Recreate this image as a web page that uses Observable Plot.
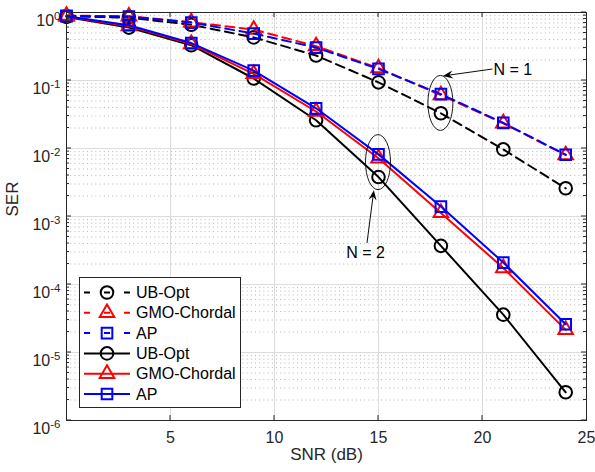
<!DOCTYPE html>
<html><head><meta charset="utf-8">
<script src="https://cdn.jsdelivr.net/npm/d3@7"></script>
<script src="https://cdn.jsdelivr.net/npm/@observablehq/plot@0.6"></script>
<style>
html,body{margin:0;padding:0;background:#fff;}
#chart{position:absolute;left:0;top:0;width:595px;height:472px;}
</style></head><body><div id="chart"></div>
<script>
// ---- data ----
const snr = [0, 3, 6, 9, 12, 15, 18, 21, 24];
// N = 1 (dashed)
const ubOptN1 = [0.88, 0.84, 0.66, 0.43, 0.233, 0.094, 0.033, 0.0097, 0.0026];
const gmoN1   = [0.90, 0.88, 0.72, 0.56, 0.32, 0.152, 0.061, 0.0235, 0.0080];
const apN1    = [0.89, 0.87, 0.71, 0.49, 0.305, 0.148, 0.063, 0.0238, 0.0081];
// N = 2 (solid)
const ubOptN2 = [0.86, 0.60, 0.33, 0.107, 0.026, 0.0038, 0.00037, 3.6e-5, 2.6e-6];
const gmoN2   = [0.87, 0.63, 0.345, 0.125, 0.035, 0.0072, 0.00113, 0.000175, 2.15e-5];
const apN2    = [0.88, 0.65, 0.355, 0.14, 0.039, 0.0082, 0.00140, 0.00021, 2.6e-5];

const seriesNames = ["UB-Opt", "GMO-Chordal", "AP", "UB-Opt", "GMO-Chordal", "AP"];
const seriesValues = [ubOptN1, gmoN1, apN1, ubOptN2, gmoN2, apN2];

const xTicks = [5, 10, 15, 20, 25];
const yTickExponents = [0, -1, -2, -3, -4, -5, -6];
const xLabel = "SNR (dB)";
const yLabel = "SER";

// annotations (data coordinates)
const annotLabels = ["N = 1", "N = 2"];
const annotTextX = [20.55, 14.4];
const annotTextY = [0.142, 2.9e-4];
const annotArrowFromX = [20.5, 14.47];
const annotArrowFromY = [0.145, 4.0e-4];
const annotArrowToX = [18.12, 14.8];
const annotArrowToY = [0.1147, 2.4e-3];
const ellipseX = [18.0, 15.0];
const ellipseY = [0.046, 0.0062];

// ---- styles ----
const seriesColors = ["#000000", "#ff0000", "#0000ff", "#000000", "#ff0000", "#0000ff"];
const seriesSymbols = ["circle", "triangle", "square", "circle", "triangle", "square"];
const seriesDashed = [true, true, true, false, false, false];
const symbolR = {circle: 6.3, triangle: 5.4, square: 6.0};
const FONT = "'Liberation Sans', Arial, Helvetica, sans-serif";
const AX = "#262626";
const TICK_FS = 16;

const decades = yTickExponents.map(e => Math.pow(10, e));
const minorVals = [];
for (let e = -6; e < 0; e++) for (let m = 2; m <= 9; m++) minorVals.push(m * Math.pow(10, e));

const marks = [
  Plot.ruleY(minorVals, {stroke: "#b4b4b4", strokeWidth: 1, strokeDasharray: "1,3.2"}),
  Plot.ruleY(decades, {stroke: "#dcdcdc", strokeWidth: 1}),
  Plot.ruleX(xTicks.slice(0, 4), {stroke: "#dcdcdc", strokeWidth: 1})
];
seriesValues.forEach((vals, si) => {
  const rows = snr.map((x, i) => ({x, y: vals[i]}));
  marks.push(Plot.line(rows, {x: "x", y: "y", stroke: seriesColors[si], strokeWidth: 2,
    strokeDasharray: seriesDashed[si] ? "9,5.5" : null}));
  marks.push(Plot.dot(rows, {x: "x", y: "y", symbol: () => seriesSymbols[si], r: symbolR[seriesSymbols[si]],
    stroke: seriesColors[si], strokeWidth: 2, fill: "none"}));
});
marks.push(
  Plot.frame({stroke: AX, strokeWidth: 1}),
  Plot.axisX({ticks: xTicks, tickSize: 0, tickPadding: 11, label: null, fontSize: TICK_FS, fill: AX}),
  Plot.axisY({ticks: decades, tickSize: 0, tickPadding: 6, label: null, fontSize: TICK_FS, fill: AX,
    tickFormat: d => "10"}),
  Plot.text([xLabel], {frameAnchor: "bottom", text: d => d, dy: 39, fontSize: 17, fill: AX}),
  Plot.text([yLabel], {frameAnchor: "left", text: d => d, dx: -54, rotate: -90, fontSize: 17, fill: AX})
);

const plot = Plot.plot({
  width: 595, height: 472,
  marginTop: 12, marginBottom: 52, marginLeft: 66, marginRight: 9,
  style: {fontFamily: FONT, background: "#fff", overflow: "visible"},
  x: {domain: [0, 25]},
  y: {type: "log", domain: [1e-6, 1]},
  marks
});
document.getElementById("chart").appendChild(plot);

const sx = plot.scale("x"), sy = plot.scale("y");
const svg = d3.select(plot);
const X0 = sx.apply(0), X1 = sx.apply(25), Y0 = sy.apply(1e-6), Y1 = sy.apply(1);

svg.selectAll('g[aria-label="x-axis tick label"]').attr("font-size", TICK_FS);
// superscript exponents on y tick labels
svg.selectAll('g[aria-label="y-axis tick label"]').attr("font-size", TICK_FS);
svg.selectAll('g[aria-label="y-axis tick label"] text').each(function(d, i) {
  const t = d3.select(this);
  t.text(null).attr("dy", "0.55em");
  t.append("tspan").text("10");
  t.append("tspan").attr("dy", "-0.55em").attr("font-size", "11.5px").text(String(yTickExponents[i]));
});

// inward ticks on all four sides
const tg = svg.append("g").attr("stroke", AX).attr("stroke-width", 1);
xTicks.slice(0, 4).forEach(v => {
  const x = sx.apply(v);
  tg.append("line").attr("x1", x).attr("x2", x).attr("y1", Y0).attr("y2", Y0 - 5);
  tg.append("line").attr("x1", x).attr("x2", x).attr("y1", Y1).attr("y2", Y1 + 5);
});
decades.forEach(v => {
  const y = sy.apply(v);
  tg.append("line").attr("x1", X0).attr("x2", X0 + 5).attr("y1", y).attr("y2", y);
  tg.append("line").attr("x1", X1).attr("x2", X1 - 5).attr("y1", y).attr("y2", y);
});
minorVals.forEach(v => {
  const y = sy.apply(v);
  tg.append("line").attr("x1", X0).attr("x2", X0 + 3).attr("y1", y).attr("y2", y);
  tg.append("line").attr("x1", X1).attr("x2", X1 - 3).attr("y1", y).attr("y2", y);
});

// annotations
const ag = svg.append("g");
ellipseX.forEach((ex, i) => {
  ag.append("ellipse").attr("cx", sx.apply(ex)).attr("cy", sy.apply(ellipseY[i]))
    .attr("rx", 12.5).attr("ry", 27.5).attr("fill", "none").attr("stroke", "#000").attr("stroke-width", 0.9);
});
annotLabels.forEach((lab, i) => {
  const x1 = sx.apply(annotArrowFromX[i]), y1 = sy.apply(annotArrowFromY[i]);
  const x2 = sx.apply(annotArrowToX[i]), y2 = sy.apply(annotArrowToY[i]);
  const ang = Math.atan2(y2 - y1, x2 - x1) * 180 / Math.PI;
  const len = Math.hypot(x2 - x1, y2 - y1);
  const g = ag.append("g").attr("transform", `translate(${x2},${y2}) rotate(${ang})`);
  g.append("line").attr("x1", -len).attr("x2", -6).attr("y1", 0).attr("y2", 0).attr("stroke", "#000").attr("stroke-width", 0.9);
  g.append("path").attr("d", "M0,0L-10,-4L-6.5,0L-10,4Z").attr("fill", "#000");
  ag.append("text").attr("x", sx.apply(annotTextX[i])).attr("y", sy.apply(annotTextY[i]))
    .attr("dy", "0.35em").attr("text-anchor", i === 0 ? "start" : "middle")
    .attr("font-size", 16).attr("fill", "#000").text(lab);
});

// legend (inside plot, lower left)
const lg = svg.append("g");
lg.append("rect").attr("x", 79.5).attr("y", 277.5).attr("width", 161).attr("height", 130)
  .attr("fill", "#fff").attr("stroke", AX).attr("stroke-width", 1);
seriesNames.forEach((name, i) => {
  const y = 292.5 + i * 20.3;
  lg.append("line").attr("x1", 84).attr("x2", 130).attr("y1", y).attr("y2", y)
    .attr("stroke", seriesColors[i]).attr("stroke-width", 2)
    .attr("stroke-dasharray", seriesDashed[i] ? "6,14" : null);
  const sym = {circle: d3.symbolCircle, triangle: d3.symbolTriangle, square: d3.symbolSquare}[seriesSymbols[i]];
  const r = symbolR[seriesSymbols[i]];
  lg.append("path").attr("transform", `translate(107,${y})`)
    .attr("d", d3.symbol(sym, Math.PI * r * r)())
    .attr("fill", "none").attr("stroke", seriesColors[i]).attr("stroke-width", 2);
  lg.append("text").attr("x", 136).attr("y", y).attr("dy", "0.35em").attr("text-anchor", "start")
    .attr("font-size", 16).attr("fill", "#000").text(name);
});
</script>
</body></html>
